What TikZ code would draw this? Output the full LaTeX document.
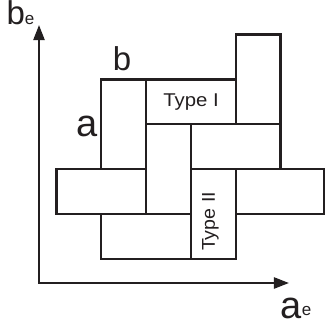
\documentclass[tikz,border=0pt]{standalone}
\usepackage{fontspec}
\setmainfont{Liberation Sans}
\usetikzlibrary{arrows.meta}
\definecolor{ink}{RGB}{35,31,32}
\begin{document}
\begin{tikzpicture}[x=1pt,y=-1pt,
  box/.style={draw=ink,line width=2.3pt,inner sep=0pt},
  vbox/.style={box,minimum width=44.8pt,minimum height=89.8pt},
  hbox/.style={box,minimum width=89.6pt,minimum height=44.9pt},
  lbl/.style={text=ink,inner sep=0pt},
  axis/.style={draw=ink,line width=2.3pt,{Triangle[length=15pt,width=11pt]}-{Triangle[length=15pt,width=11pt]}}]
\useasboundingbox (0,0) rectangle (325,325);
% axes
\coordinate (ytip) at (39,25);
\coordinate (origin) at (39,283);
\coordinate (xtip) at (289,283);
\draw[axis] (ytip) -- (origin) -- (xtip);
% rectangles
\node[vbox] (r1) at (123.7,124.3) {};
\node[hbox] (r2) at (190.9,101.85) {};
\node[vbox] (r3) at (258.1,79.4) {};
\node[hbox] (r4) at (235.7,146.75) {};
\node[vbox] (r5) at (168.5,169.2) {};
\node[hbox] (r6) at (101.3,191.65) {};
\node[hbox] (r7) at (146.1,236.55) {};
\node[vbox] (r8) at (213.3,214.1) {};
\node[hbox,minimum width=88.1pt] (r9) at (279.75,191.65) {};
% texts
\node[lbl,xscale=1.1] (t1) at (191,102) {\fontsize{18.5}{18.5}\selectfont Type I};
\node[lbl,rotate=90,xscale=1.06] (t2) at (210.5,221.5) {\fontsize{18.5}{18.5}\selectfont Type II};
\node[lbl,anchor=base] (la) at (87.3,136.3) {\fontsize{38}{38}\selectfont a};
\node[lbl,anchor=base] (lb) at (122,70.8) {\fontsize{33}{33}\selectfont b};
\node[lbl,anchor=base west] (be) at (6.4,24.7) {\fontsize{33}{33}\selectfont b\fontsize{17}{17}\selectfont e};
\node[lbl,anchor=base west] (ae) at (280.6,318.2) {\fontsize{38}{38}\selectfont a\raisebox{2.5pt}{\fontsize{17}{17}\selectfont e}};
\end{tikzpicture}
\end{document}
